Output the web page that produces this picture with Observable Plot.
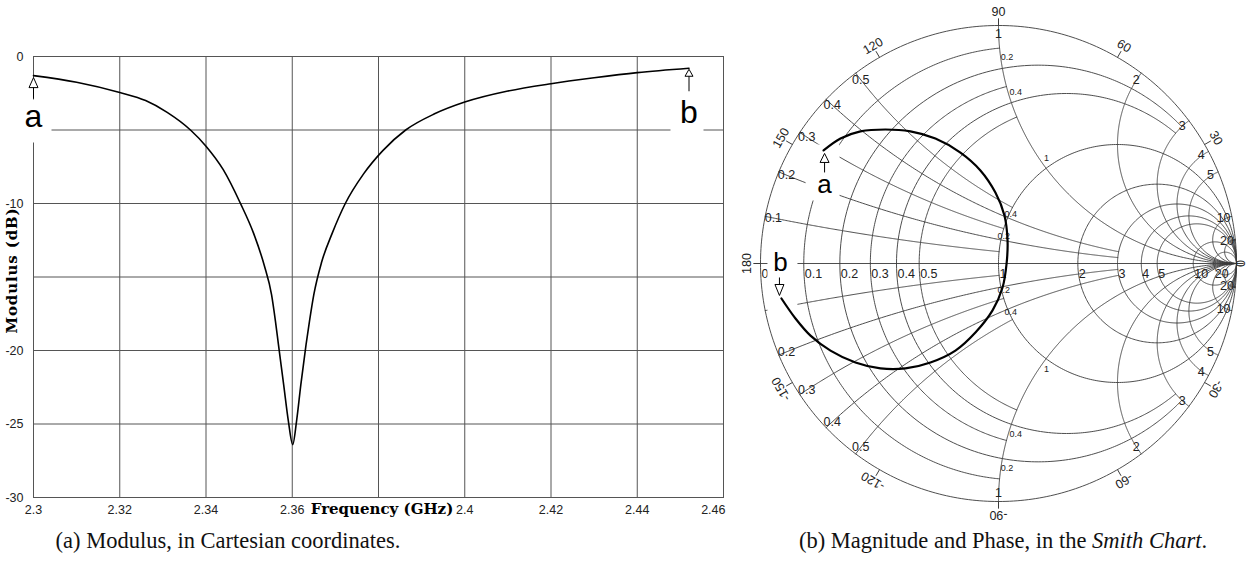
<!DOCTYPE html>
<html><head><meta charset="utf-8">
<script src="https://cdn.jsdelivr.net/npm/d3@7"></script>
<script src="https://cdn.jsdelivr.net/npm/@observablehq/plot@0.6"></script>
<style>
body{margin:0;background:#fff;}
#wrap{position:relative;width:1246px;height:565px;overflow:hidden;background:#fff;}
#left{position:absolute;left:0;top:0;}
#right{position:absolute;left:740px;top:0;}
.cap{position:absolute;top:541px;font-family:"Liberation Serif","DejaVu Serif",serif;font-size:22.5px;line-height:1;white-space:nowrap;color:#111;transform:translate(-50%,-50%);}
</style></head><body>
<div id="wrap"><div id="left"></div><div id="right"></div>
<div class="cap" id="capA" style="left:228px">(a) Modulus, in Cartesian coordinates.</div>
<div class="cap" id="capB" style="left:1003px">(b) Magnitude and Phase, in the <i>Smith Chart</i>.</div>
</div>
<script>
// ---------------- data ----------------
const freqTicks = [2.3, 2.32, 2.34, 2.36, 2.38, 2.4, 2.42, 2.44, 2.46];
const freqTickLabels = ["2.3", "2.32", "2.34", "2.36", "", "2.4", "2.42", "2.44", "2.46"];
const dbGrid = [0, -5, -10, -15, -20, -25, -30];
const dbTickLabels = ["0", "", "-10", "", "-20", "-25", "-30"];

const freqGHz = [2.300, 2.310, 2.320, 2.326, 2.331, 2.3364, 2.340, 2.344, 2.348, 2.351, 2.3535, 2.3552,
  2.3561, 2.3568, 2.3580, 2.3591, 2.3601, 2.3610, 2.3620, 2.3632, 2.3640, 2.3650, 2.3668, 2.3693,
  2.3723, 2.3765, 2.3810, 2.3863, 2.393, 2.400, 2.410, 2.420, 2.430, 2.440, 2.452];
const modulusDb = [-1.3, -1.75, -2.45, -3.0, -3.8, -5.0, -6.1, -7.7, -10.0, -12.0, -14.2, -16.2,
  -18.0, -19.6, -22.3, -24.8, -26.4, -24.8, -22.3, -19.6, -18.0, -16.2, -14.0, -12.0,
  -10.0, -8.0, -6.4, -5.0, -3.9, -3.1, -2.35, -1.85, -1.45, -1.1, -0.8];

// reflection coefficient trace (Smith chart)
const gammaRe = [-0.735, -0.664, -0.580, -0.475, -0.370, -0.265, -0.160, -0.076, -0.013, 0.025, 0.038,
  0.034, 0.017, -0.025, -0.097, -0.181, -0.286, -0.391, -0.496, -0.601, -0.706, -0.790, -0.853, -0.912];
const gammaIm = [0.475, 0.525, 0.555, 0.563, 0.555, 0.525, 0.466, 0.391, 0.298, 0.202, 0.097,
  0.000, -0.101, -0.197, -0.290, -0.366, -0.416, -0.441, -0.441, -0.416, -0.366, -0.303, -0.231, -0.147];

// Smith chart grid
const resistanceValues = [0.1, 0.2, 0.3, 0.4, 0.5, 1, 2, 3, 4, 5, 10, 20];
const resistanceMaxX = [1, 3, 1, 3, 1, Infinity, Infinity, Infinity, Infinity, Infinity, Infinity, Infinity];
const reactanceValues = [0.1, 0.2, 0.3, 0.4, 0.5, 1, 2, 3, 4, 5, 10, 20];
const reactanceMaxR = [1, 3, 1, 3, 1, Infinity, Infinity, Infinity, Infinity, Infinity, Infinity, Infinity];
const axisLabelR = [0, 0.1, 0.2, 0.3, 0.4, 0.5, 1, 2, 3, 4, 5, 10, 20];
const axisLabelText = ["0", "0.1", "0.2", "0.3", "0.4", "0.5", "1", "2", "3", "4", "5", "10", "20"];
const rimLabelX = [0.1, 0.2, 0.3, 0.4, 0.5, 1, 2, 3, 4, 5, 10, 20];
const rimLabelText = ["0.1", "0.2", "0.3", "0.4", "0.5", "1", "2", "3", "4", "5", "10", "20"];
const rimLabelHidden = [-0.1];          // covered by the "b" marker
const smallRLabels = [0.2, 0.4];        // labelled on the x = ±1 arcs
const smallXLabels = [0.2, 0.4];        // labelled on the r = 1 circle
const phaseTicks = [90, 120, 150, 180, -150, -120, -90, -60, -30, 0, 30, 60];
const phaseLabels = ["90", "120", "150", "180", "-150", "-120", "-90", "-60", "-30", "0", "30", "60"];

// ---------------- helpers ----------------
const tickFont = "'Liberation Sans', Arial, sans-serif";
const boldSerif = "'DejaVu Serif', 'Liberation Serif', serif";
const sans = "'Liberation Sans', Arial, sans-serif";

function boxSymbol(w, h) { return {draw(ctx) { ctx.rect(-w / 2, -h / 2, w, h); }}; }
function arrowUp(w, th, stem) {
  return {draw(ctx) { ctx.moveTo(0, 0); ctx.lineTo(w / 2, th); ctx.lineTo(-w / 2, th); ctx.closePath();
    ctx.moveTo(0, th); ctx.lineTo(0, th + stem); }};
}
function arrowDown(w, th, stem) {
  return {draw(ctx) { ctx.moveTo(0, 0); ctx.lineTo(w / 2, -th); ctx.lineTo(-w / 2, -th); ctx.closePath();
    ctx.moveTo(0, -th); ctx.lineTo(0, -th - stem); }};
}
function gamma(r, x) { const d = (r + 1) ** 2 + x * x; return [(r * r + x * x - 1) / d, 2 * x / d]; }

// ---------------- left chart ----------------
const leftData = freqGHz.map((f, i) => ({f, m: modulusDb[i]}));
const aL = leftData[0], bL = leftData[leftData.length - 1];
const xTickData = freqTicks.map((v, i) => ({v, t: freqTickLabels[i]}));
const yTickData = dbGrid.map((v, i) => ({v, t: dbTickLabels[i]}));

const leftChart = Plot.plot({
  width: 740, height: 520,
  marginLeft: 33, marginRight: 17, marginTop: 56, marginBottom: 23,
  x: {domain: [2.3, 2.46], axis: null},
  y: {domain: [-30, 0], axis: null},
  style: {background: "white", color: "#111", fontFamily: tickFont, fontSize: "12.5px", overflow: "visible"},
  marks: [
    Plot.ruleX(freqTicks, {stroke: "#555"}),
    Plot.ruleY(dbGrid, {stroke: "#555"}),
    Plot.frame({stroke: "#555"}),
    Plot.text(xTickData.slice(0, -1), {x: "v", text: "t", frameAnchor: "bottom", lineAnchor: "top", dy: 8, fill: "#222"}),
    Plot.text(xTickData.slice(-1), {x: "v", text: "t", frameAnchor: "bottom", lineAnchor: "top", dy: 8, dx: 2, textAnchor: "end", fill: "#222"}),
    Plot.text(yTickData, {y: "v", text: "t", frameAnchor: "left", textAnchor: "end", dx: -10, fill: "#222"}),
    Plot.text(["Frequency (GHz)"], {frameAnchor: "bottom", lineAnchor: "top", textAnchor: "middle", dy: 6, dx: 3.5, fontWeight: "bold", fontFamily: boldSerif, fontSize: 15, fill: "#000"}),
    Plot.text(["Modulus (dB)"], {frameAnchor: "left", textAnchor: "middle", lineAnchor: "middle", rotate: -90, dx: -21, dy: -6.5, fontWeight: "bold", fontFamily: boldSerif, fontSize: 15, fill: "#000"}),
    Plot.dot([aL], {x: "f", y: "m", symbol: boxSymbol(36, 43), fill: "white", dy: 45.5}),
    Plot.dot([bL], {x: "f", y: "m", symbol: boxSymbol(33, 48), fill: "white", dy: 48, dx: -2}),
    Plot.line(leftData, {x: "f", y: "m", stroke: "black", strokeWidth: 1.6, curve: "monotone-x"}),
    Plot.dot([aL], {x: "f", y: "m", symbol: arrowUp(9, 10, 11), fill: "white", stroke: "black", strokeWidth: 1, dy: 2}),
    Plot.dot([bL], {x: "f", y: "m", symbol: arrowUp(8, 7, 15), fill: "white", stroke: "black", strokeWidth: 1, dy: 1}),
    Plot.text([aL], {x: "f", y: "m", text: () => "a", fontSize: 32, fontFamily: sans, fill: "#000", dy: 41}),
    Plot.text([bL], {x: "f", y: "m", text: () => "b", fontSize: 32, fontFamily: sans, fill: "#000", dy: 44})
  ]
});
document.getElementById("left").append(leftChart);
{
  const t = d3.select(leftChart).selectAll("text").filter(function () { return this.textContent === "Modulus (dB)"; });
  t.each(function () {
    const w = this.getComputedTextLength();
    this.setAttribute("letter-spacing", Math.max(0, (126 - w) / 12) + "px");
  });
}

// ---------------- Smith chart ----------------
const grid = [];
let gid = 0;
function pushPath(pts) { const id = gid++; for (const [re, im] of pts) grid.push({id, re, im}); }
function range(a, b, n) { return d3.range(n + 1).map(i => a + (b - a) * i / n); }

pushPath(range(0, 2 * Math.PI, 400).map(t => [Math.cos(t), Math.sin(t)]));
pushPath([[-1, 0], [1, 0]]);
resistanceValues.forEach((r, i) => {
  const L = resistanceMaxX[i];
  if (L === Infinity) {
    const c = r / (1 + r), rad = 1 / (1 + r);
    pushPath(range(0, 2 * Math.PI, 360).map(t => [c + rad * Math.cos(t), rad * Math.sin(t)]));
  } else {
    pushPath(range(-L, L, 300).map(x => gamma(r, x)));
  }
});
reactanceValues.forEach((x, i) => {
  const R = reactanceMaxR[i];
  for (const s of [1, -1]) {
    if (R === Infinity) {
      pushPath(range(0, Math.PI / 2 - 1e-3, 400).map(t => gamma(Math.tan(t), s * x)).concat([[1, 0]]));
    } else {
      pushPath(range(0, R, 300).map(r => gamma(r, s * x)));
    }
  }
});

const phaseData = phaseTicks.map((t, i) => {
  const a = t * Math.PI / 180;
  return {t, s: phaseLabels[i], c: Math.cos(a), sn: Math.sin(a)};
});
const axisLabels = axisLabelR.map((r, i) => ({re: (r - 1) / (r + 1), im: 0, s: axisLabelText[i]}));
const rimLabels = [];
rimLabelX.forEach((x, i) => {
  for (const sgn of [1, -1]) {
    if (rimLabelHidden.includes(sgn * x)) continue;
    const [re, im] = gamma(0, sgn * x);
    rimLabels.push({re: re * 0.965, im: im * 0.965, s: rimLabelText[i]});
  }
});
const smallLabels = [];
smallRLabels.forEach(r => {
  for (const sgn of [1, -1]) { const [re, im] = gamma(r, sgn); smallLabels.push({re, im, s: String(r), dx: 4.5, dy: sgn > 0 ? -11 : 10}); }
});
smallXLabels.forEach(x => {
  for (const sgn of [1, -1]) { const [re, im] = gamma(1, sgn * x); smallLabels.push({re, im, s: String(x), dx: 3, dy: sgn > 0 ? -4 : 3}); }
});
for (const sgn of [1, -1]) { const [re, im] = gamma(1, sgn); smallLabels.push({re, im, s: "1", dx: 0.5, dy: sgn > 0 ? -10 : 10}); }

const smithCurve = gammaRe.map((re, i) => ({re, im: gammaIm[i]}));
const aS = smithCurve[0], bS = smithCurve[smithCurve.length - 1];

const smith = Plot.plot({
  width: 506, height: 530, margin: 0,
  x: {domain: [-1, 1], range: [20, 496], axis: null},
  y: {domain: [-1, 1], range: [501, 25], axis: null},
  style: {background: "white", color: "#111", fontFamily: tickFont, fontSize: "12.5px", overflow: "hidden"},
  marks: [
    Plot.line(grid, {x: "re", y: "im", z: "id", stroke: "#3a3a3a", strokeWidth: 0.9, curve: "linear"}),
    Plot.link(phaseData, {x1: "c", y1: "sn", x2: d => 1.03 * d.c, y2: d => 1.03 * d.sn, stroke: "#3a3a3a"}),
    Plot.text(axisLabels, {x: "re", y: "im", text: "s", textAnchor: "start", dx: 1, dy: 10, fill: "#222"}),
    Plot.text(rimLabels, {x: "re", y: "im", text: "s", fill: "#222"}),
    ...smallLabels.map(d => Plot.text([d], {x: "re", y: "im", text: "s", dx: d.dx, dy: d.dy, fontSize: 9, fill: "#222"})),
    Plot.text(phaseData.filter(d => d.t !== 0), {x: d => 1.055 * d.c, y: d => 1.055 * d.sn, text: "s", rotate: d => 90 - d.t, fill: "#222"}),
    Plot.text(phaseData.filter(d => d.t === 0), {x: d => 1.055 * d.c, y: d => 1.055 * d.sn, text: "s", rotate: d => 90 - d.t, dx: -10, fill: "#222"}),
    Plot.dot([aS], {x: "re", y: "im", symbol: boxSymbol(34, 56), fill: "white", dy: 22, dx: -1}),
    Plot.dot([bS], {x: "re", y: "im", symbol: boxSymbol(30, 66), fill: "white", dy: -19, dx: 1}),
    Plot.line(smithCurve, {x: "re", y: "im", stroke: "black", strokeWidth: 2.2, curve: "catmull-rom"}),
    Plot.dot([aS], {x: "re", y: "im", symbol: arrowUp(9, 9, 10), fill: "white", stroke: "black", strokeWidth: 1, dy: 3, dx: 1}),
    Plot.dot([bS], {x: "re", y: "im", symbol: arrowDown(9, 11, 7), fill: "white", stroke: "black", strokeWidth: 1, dy: -3, dx: -2}),
    Plot.text([aS], {x: "re", y: "im", text: () => "a", fontSize: 26, fontFamily: sans, fill: "#000", dy: 34.5, dx: 1}),
    Plot.text([bS], {x: "re", y: "im", text: () => "b", fontSize: 26, fontFamily: sans, fill: "#000", dy: -36, dx: -1})
  ]
});
document.getElementById("right").append(smith);
</script>
</body></html>
